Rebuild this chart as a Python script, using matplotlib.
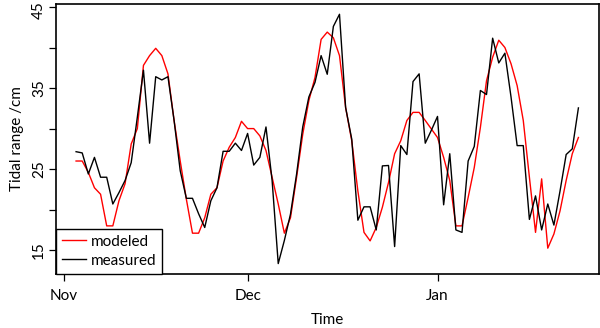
import numpy as np
import pandas as pd
import matplotlib
matplotlib.use("Agg")
import matplotlib.pyplot as plt
import matplotlib.dates as mdates
from matplotlib.transforms import ScaledTranslation

plt.rcParams['font.family'] = ['Lato', 'DejaVu Sans']

# daily tidal range, 3 Nov - 24 Jan
dates = pd.date_range("2012-11-03", "2013-01-24", freq="D")

measured = [27.15, 27.0, 24.4, 26.45, 24.0, 24.0, 20.7, 22.1, 23.6, 25.8,
            31.4, 37.2, 28.2, 36.4, 36.0, 36.4, 31.0, 24.8, 21.4, 21.4,
            19.5, 17.8, 21.1, 22.7, 27.2, 27.2, 28.2, 27.3, 29.4, 25.5,
            26.45, 30.2, 23.6, 13.35, 16.2, 19.45, 24.4, 30.2, 33.9, 35.7,
            39.0, 36.7, 42.6, 44.1, 32.6, 28.7, 18.7, 20.35, 20.35, 17.5,
            25.4, 25.45, 15.45, 27.9, 26.8, 35.8, 36.75, 28.2, 29.8, 31.5,
            20.6, 26.9, 17.5, 17.2, 26.0, 27.8, 34.7, 34.2, 41.15, 38.1,
            39.3, 33.9, 27.9, 27.9, 18.8, 21.7, 17.5, 20.7, 18.1, 22.3,
            26.8, 27.5, 32.55]

modeled = [26.0, 26.0, 24.6, 22.7, 21.9, 18.0, 18.0, 21.1, 23.2, 28.1,
           30.0, 37.8, 39.0, 39.9, 39.0, 36.75, 31.0, 26.0, 21.3, 17.1,
           17.1, 19.0, 21.9, 22.7, 26.0, 27.7, 28.9, 30.9, 30.0, 30.0,
           29.1, 27.3, 24.0, 20.7, 17.1, 19.0, 24.0, 29.3, 33.45, 36.3,
           41.0, 41.9, 41.2, 39.0, 32.6, 28.5, 22.3, 17.2, 16.15, 17.8,
           20.3, 23.35, 26.9, 28.5, 31.0, 32.0, 32.0, 31.0, 29.95, 28.9,
           26.45, 23.6, 18.0, 18.0, 21.5, 25.2, 30.15, 35.9, 38.8, 40.9,
           40.0, 38.0, 35.3, 31.0, 24.0, 17.2, 23.8, 15.25, 17.0, 19.85,
           23.6, 26.9, 28.9]

y_ticks = [15, 20, 25, 30, 35, 40, 45]
y_labels = ["15", "", "25", "", "35", "", "45"]

fs = 11

fig = plt.figure(figsize=(6.0, 3.28), dpi=100)
ax = fig.add_axes([0.0933, 0.166, 0.9042, 0.8209])

ax.plot(dates, modeled, color="red", lw=1.0, label="modeled")
ax.plot(dates, measured, color="black", lw=1.0, label="measured")

# R-like 4% padding on both axes
x0 = mdates.date2num(dates[0])
x1 = mdates.date2num(dates[-1])
ax.set_xlim(x0 - 0.04 * (x1 - x0), x1 + 0.04 * (x1 - x0))
all_vals = measured + modeled
lo, hi = min(all_vals), max(all_vals)
ax.set_ylim(lo - 0.04 * (hi - lo), hi + 0.04 * (hi - lo))

ax.xaxis.set_major_locator(mdates.MonthLocator())
ax.xaxis.set_major_formatter(mdates.DateFormatter("%b"))
ax.set_yticks(y_ticks)
ax.set_yticklabels(y_labels, rotation=90, va="center")

ax.tick_params(axis="both", direction="out", length=5, width=0.9,
               labelsize=fs, color="black")
ax.tick_params(axis="x", pad=6)
ax.tick_params(axis="y", pad=2)
for sp in ax.spines.values():
    sp.set_linewidth(1.2)

# keep the top label inside the figure
top_lab = ax.get_yticklabels()[-1]
top_lab.set_transform(top_lab.get_transform() +
                      ScaledTranslation(0, -2.5 / 72, fig.dpi_scale_trans))

ax.set_xlabel("Time", fontsize=fs, labelpad=7)
ax.set_ylabel("Tidal range /cm", fontsize=fs, labelpad=6)

leg = ax.legend(loc="lower left", fontsize=fs, frameon=True, fancybox=False,
                borderaxespad=0, handlelength=1.6, handletextpad=0.3,
                borderpad=0.38, labelspacing=0.33)
leg.get_frame().set_edgecolor("black")
leg.get_frame().set_linewidth(1.0)
leg.get_frame().set_alpha(1)

fig.savefig("out.png", dpi=100)
